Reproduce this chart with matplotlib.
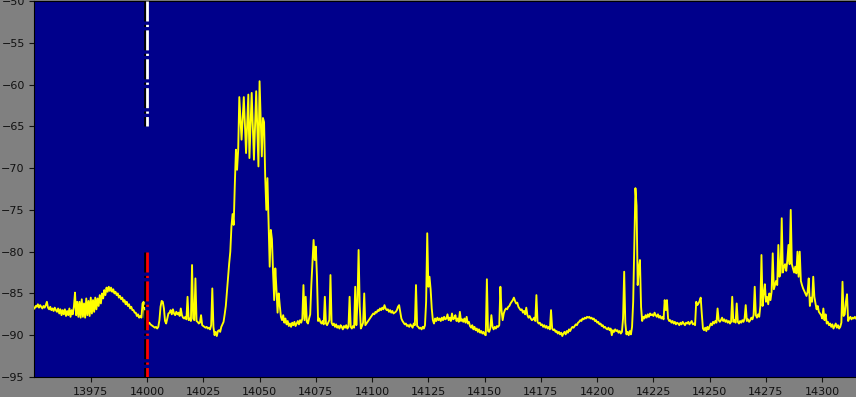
import matplotlib
matplotlib.use('Agg')
import matplotlib.pyplot as plt
import matplotlib.patheffects as pe
import numpy as np

# spectrum sampled every 0.5 kHz starting at 13950 kHz
f_start = 13950.0
f_step = 0.5
level = [
    # 13950
    -86.8, -86.5, -86.6, -86.3, -86.7, -86.4, -86.6, -86.8, -86.5, -86.7, -86.4, -86.0, -86.7, -86.9, -86.6, -87.0, -86.8, -87.1, -86.7, -87.0,
    # 13960
    -87.2, -86.8, -87.4, -86.9, -87.6, -87.0, -87.5, -86.9, -87.7, -87.1, -87.6, -86.8, -87.8, -87.0, -87.5, -86.6, -84.9, -87.6, -86.0, -87.8,
    # 13970
    -86.0, -87.9, -85.7, -87.8, -86.2, -87.9, -85.6, -87.6, -85.9, -87.7, -85.5, -87.4, -85.8, -87.2, -85.5, -86.9, -85.6, -86.5, -85.2, -86.2,
    # 13980
    -85.0, -85.6, -84.6, -85.2, -84.3, -84.8, -84.2, -84.7, -84.3, -84.8, -84.5, -85.0, -84.8, -85.2, -85.0, -85.5, -85.3, -85.7, -85.5, -86.0,
    # 13990
    -85.8, -86.3, -86.0, -86.5, -86.3, -86.8, -86.6, -87.0, -87.0, -87.3, -87.3, -87.7, -87.5, -87.9, -87.7, -87.9, -86.2, -86.0, -87.9, -88.3,
    # 14000
    -88.4, -88.6, -88.5, -88.7, -88.8, -88.9, -89.0, -89.1, -89.0, -89.2, -89.0, -88.2, -86.6, -85.9, -86.0, -86.8, -88.3, -88.6, -88.0, -87.4,
    # 14010
    -87.3, -87.0, -87.5, -86.9, -87.4, -87.6, -87.2, -87.5, -87.3, -87.7, -86.8, -87.6, -87.9, -88.0, -87.8, -88.1, -85.4, -88.2, -88.0, -88.3,
    # 14020
    -81.6, -88.0, -88.2, -83.2, -88.3, -88.4, -88.6, -88.5, -87.6, -88.8, -88.9, -89.0, -89.1, -89.0, -89.2, -89.1, -89.3, -88.8, -84.4, -89.0,
    # 14030
    -90.0, -89.6, -90.1, -89.5, -89.4, -89.6, -89.0, -88.7, -88.4, -87.5, -86.5, -84.8, -83.0, -81.4, -80.0, -77.0, -75.5, -76.8, -72.0, -67.8,
    # 14040
    -70.2, -67.8, -61.5, -64.0, -66.6, -64.0, -61.5, -64.8, -68.2, -64.7, -61.2, -68.8, -64.9, -61.0, -65.0, -69.0, -64.9, -60.8, -65.3, -69.8,
    # 14050
    -59.6, -64.1, -68.6, -64.0, -64.5, -71.0, -75.0, -71.2, -76.5, -81.8, -77.4, -78.5, -82.5, -85.8, -82.0, -84.5, -87.3, -85.0, -86.5, -87.8,
    # 14060
    -88.2, -87.6, -88.5, -88.0, -88.7, -88.3, -88.9, -88.6, -89.0, -88.5, -88.8, -88.4, -88.9, -88.6, -88.3, -88.7, -88.2, -88.5, -88.0, -84.0,
    # 14070
    -88.2, -85.4, -88.4, -88.6, -88.0, -87.5, -84.0, -81.4, -78.6, -81.0, -79.4, -83.0, -88.3, -88.0, -88.4, -88.6, -88.3, -88.7, -85.4, -88.6,
    # 14080
    -88.8, -88.5, -88.2, -82.8, -88.5, -88.8, -88.6, -89.0, -88.7, -89.1, -88.9, -89.2, -88.8, -89.0, -89.3, -88.9, -89.1, -88.8, -89.2, -89.0,
    # 14090
    -85.4, -89.0, -89.2, -88.9, -89.1, -84.2, -88.8, -86.0, -79.8, -86.5, -89.2, -88.9, -88.5, -85.0, -88.8, -88.6, -88.4, -88.2, -88.0, -87.8,
    # 14100
    -87.6, -87.4, -87.5, -87.2, -87.3, -87.0, -87.1, -86.8, -87.0, -86.7, -86.9, -86.4, -86.8, -87.0, -86.9, -87.2, -87.0, -87.3, -87.1, -87.4,
    # 14110
    -87.3, -87.2, -87.0, -86.6, -86.4, -87.2, -88.0, -88.3, -88.5, -88.7, -88.6, -88.9, -88.8, -89.0, -88.7, -88.9, -89.1, -88.6, -88.8, -84.0,
    # 14120
    -88.9, -89.0, -89.2, -89.1, -89.3, -89.0, -89.2, -88.8, -86.0, -77.8, -84.2, -83.0, -84.5, -86.8, -88.2, -88.6, -88.0, -88.3, -87.9, -88.2,
    # 14130
    -88.0, -88.3, -87.9, -88.2, -87.8, -88.1, -88.0, -87.5, -88.2, -87.9, -88.3, -87.4, -88.1, -88.0, -87.6, -88.3, -88.0, -88.4, -87.2, -88.3,
    # 14140
    -88.1, -88.4, -88.0, -88.5, -87.8, -88.6, -88.4, -88.9, -89.1, -88.8, -89.3, -89.0, -89.4, -89.2, -89.6, -89.3, -89.7, -89.5, -89.8, -89.6,
    # 14150
    -89.9, -90.0, -83.3, -89.5, -89.6, -89.2, -87.6, -89.0, -89.3, -89.0, -89.2, -88.9, -89.0, -88.8, -84.2, -87.0, -88.2, -87.4, -87.0, -86.8,
    # 14160
    -86.9, -86.6, -86.5, -86.2, -86.0, -85.8, -85.5, -85.9, -86.2, -86.1, -86.6, -86.8, -87.0, -86.9, -87.3, -87.1, -87.5, -86.7, -87.6, -87.9,
    # 14170
    -87.7, -88.0, -88.2, -88.1, -87.9, -88.3, -85.2, -88.4, -88.6, -88.5, -88.8, -88.7, -89.0, -88.8, -89.1, -88.9, -89.2, -89.0, -89.3, -87.0,
    # 14180
    -89.2, -89.4, -89.3, -89.6, -89.5, -89.8, -89.6, -89.9, -89.7, -90.1, -89.8, -89.6, -89.9, -89.5, -89.7, -89.3, -89.5, -89.2, -89.0, -89.1,
    # 14190
    -88.9, -88.7, -88.8, -88.5, -88.4, -88.2, -88.3, -88.0, -88.1, -87.9, -88.0, -87.8, -87.9, -87.8, -88.0, -87.9, -88.1, -88.0, -88.3, -88.2,
    # 14200
    -88.5, -88.4, -88.7, -88.6, -88.9, -88.8, -89.1, -89.0, -89.2, -89.3, -89.1, -89.4, -89.2, -90.0, -89.4, -89.6, -89.3, -89.5, -89.4, -89.7,
    # 14210
    -89.5, -89.8, -89.6, -88.0, -82.4, -88.5, -89.9, -89.6, -90.0, -89.5, -89.9, -89.0, -86.0, -79.0, -72.4, -74.5, -84.0, -82.0, -81.0, -86.6,
    # 14220
    -88.3, -87.8, -88.0, -87.6, -87.9, -87.5, -87.8, -87.4, -87.6, -87.5, -87.7, -87.3, -87.6, -87.8, -87.5, -87.9, -87.7, -88.0, -87.8, -88.1,
    # 14230
    -85.8, -87.0, -85.8, -88.0, -88.3, -88.2, -88.5, -88.3, -88.6, -88.4, -88.7, -88.5, -88.6, -88.8, -88.5, -88.7, -88.4, -88.6, -88.8, -88.5,
    # 14240
    -88.6, -88.4, -88.7, -88.5, -88.3, -88.7, -88.6, -88.8, -86.0, -86.4, -86.2, -85.9, -85.5, -87.5, -89.2, -89.4, -89.1, -89.5, -89.0, -89.3,
    # 14250
    -88.9, -88.6, -88.8, -88.4, -88.6, -88.3, -88.5, -86.8, -88.2, -88.4, -88.2, -87.9, -88.3, -88.1, -88.4, -88.2, -88.5, -88.3, -88.6, -88.4,
    # 14260
    -85.4, -88.4, -88.2, -88.5, -86.2, -88.4, -88.6, -88.3, -88.5, -88.2, -88.4, -88.0, -86.4, -88.3, -88.1, -88.4, -88.2, -87.9, -88.1, -87.6,
    # 14270
    -84.2, -87.6, -87.9, -87.5, -87.8, -86.5, -80.4, -86.5, -85.0, -83.9, -86.0, -85.4, -86.3, -85.0, -85.8, -84.8, -80.2, -84.5, -84.0, -83.5,
    # 14280
    -84.0, -79.2, -83.0, -82.5, -76.0, -82.5, -81.8, -81.5, -82.3, -81.0, -79.2, -81.5, -75.0, -81.5, -82.0, -82.5, -81.8, -82.6, -80.0, -83.0,
    # 14290
    -80.0, -83.5, -84.0, -84.4, -84.7, -85.0, -85.3, -84.8, -83.2, -86.5, -85.5, -86.0, -83.0, -85.4, -86.2, -86.9, -86.5, -87.2, -87.4, -87.6,
    # 14300
    -88.0, -86.8, -88.2, -87.5, -88.6, -88.4, -88.8, -88.6, -89.0, -88.7, -89.2, -88.9, -88.6, -89.1, -88.8, -89.2, -89.0, -88.5, -83.6, -87.7,
    # 14310
    -87.5, -86.0, -85.1, -88.3, -88.0, -87.8, -88.1, -87.9, -88.0, -87.8, -88.0,
]
freq = f_start + f_step * np.arange(len(level))

# marker lines at 14000
mark_freq = 14000
upper_mark = [-50, -65]
lower_mark = [-80, -95]

x_ticks = [13975, 14000, 14025, 14050, 14075, 14100, 14125, 14150, 14175, 14200, 14225, 14250, 14275, 14300]
y_ticks = [-95, -90, -85, -80, -75, -70, -65, -60, -55, -50]

fig = plt.figure(figsize=(8.56, 3.97), dpi=100, facecolor='#808080')
ax = fig.add_axes([0.0403, 0.0504, 0.9597, 0.9471])
ax.set_facecolor('#00008b')

ax.plot(freq, level, color='#ffff00', linewidth=1.35, zorder=5)

shadow = [pe.SimpleLineShadow(offset=(-1.2, 0), shadow_color='black', alpha=1.0), pe.Normal()]
ax.plot([mark_freq, mark_freq], upper_mark, color='white', linewidth=2,
        linestyle=(0, (7.2, 1.2, 0.8, 1.2)), path_effects=shadow, zorder=6)
ax.plot([mark_freq, mark_freq], lower_mark, color='#ff0000', linewidth=2,
        linestyle=(0, (7.2, 1.2, 0.8, 1.2)), path_effects=shadow, zorder=6)

ax.set_xlim(13950, 14315)
ax.set_ylim(-95, -50)
ax.set_xticks(x_ticks)
ax.set_yticks(y_ticks)
ax.tick_params(labelsize=8, colors='#111111')
ax.spines['right'].set_visible(False)

fig.savefig('out.png', dpi=100, facecolor=fig.get_facecolor())
